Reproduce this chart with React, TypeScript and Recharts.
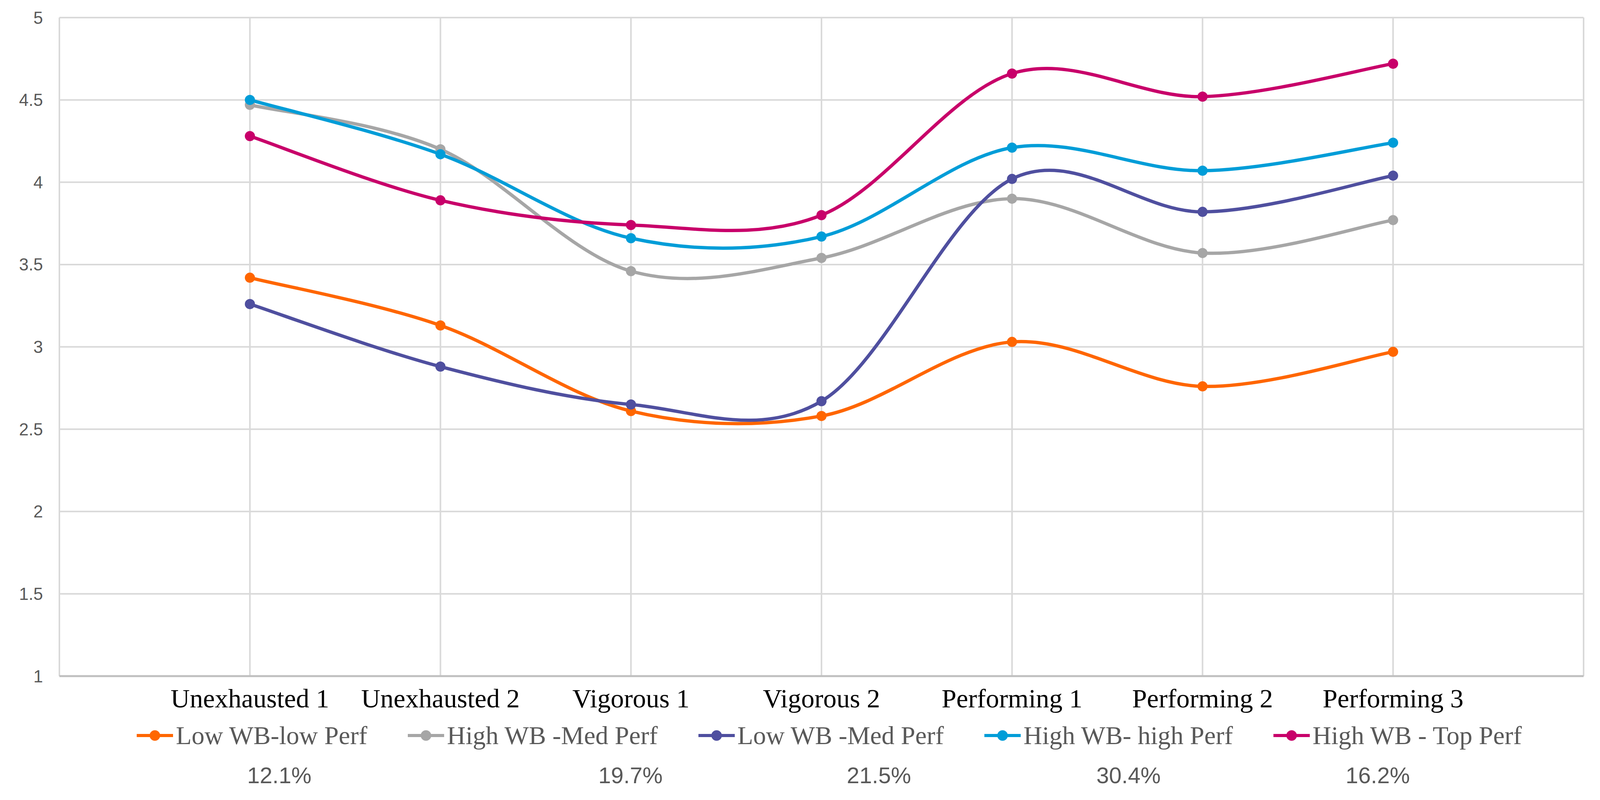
import React from 'react';
import { LineChart, Line, XAxis, YAxis, CartesianGrid, Legend } from 'recharts';

// ---- data ----
const CATEGORIES = ['Unexhausted 1', 'Unexhausted 2', 'Vigorous 1', 'Vigorous 2', 'Performing 1', 'Performing 2', 'Performing 3'];
const SERIES_NAMES = ['Low WB-low Perf', 'High WB -Med Perf', 'Low WB -Med Perf', 'High WB- high Perf', 'High WB - Top Perf'];
const SHARES = ['12.1%', '19.7%', '21.5%', '30.4%', '16.2%'];
const LOW_WB_LOW_PERF = [3.42, 3.13, 2.61, 2.58, 3.03, 2.76, 2.97];
const HIGH_WB_MED_PERF = [4.47, 4.2, 3.46, 3.54, 3.9, 3.57, 3.77];
const LOW_WB_MED_PERF = [3.26, 2.88, 2.65, 2.67, 4.02, 3.82, 4.04];
const HIGH_WB_HIGH_PERF = [4.5, 4.17, 3.66, 3.67, 4.21, 4.07, 4.24];
const HIGH_WB_TOP_PERF = [4.28, 3.89, 3.74, 3.8, 4.66, 4.52, 4.72];
const Y_TICKS = [1, 1.5, 2, 2.5, 3, 3.5, 4, 4.5, 5];

// ---- styles / layout ----
const SERIES_VALUES = [LOW_WB_LOW_PERF, HIGH_WB_MED_PERF, LOW_WB_MED_PERF, HIGH_WB_HIGH_PERF, HIGH_WB_TOP_PERF];
const COLORS = ['#FF6600', '#A6A6A6', '#4F4F9F', '#009DD8', '#C8006A'];
const SHARE_CENTERS = [715, 1614, 2250, 2889, 3527];
const W = 4111;
const H = 2047;

const data = CATEGORIES.map((c, i) => {
  const row: any = { x: i + 1, category: c };
  SERIES_VALUES.forEach((vals, k) => {
    row['s' + k] = vals[i];
  });
  return row;
});

const X_TICKS = Array.from({ length: CATEGORIES.length + 2 }, (_, i) => i);

// Excel-like smoothing (Catmull-Rom as cubic Bezier)
function smoothCurve(context: any) {
  let pts: number[][] = [];
  return {
    areaStart() {},
    areaEnd() {},
    lineStart() {
      pts = [];
    },
    point(x: number, y: number) {
      pts.push([+x, +y]);
    },
    lineEnd() {
      const n = pts.length;
      if (!n) return;
      context.moveTo(pts[0][0], pts[0][1]);
      for (let i = 0; i < n - 1; i++) {
        const p0 = pts[i - 1] || pts[i];
        const p1 = pts[i];
        const p2 = pts[i + 1];
        const p3 = pts[i + 2] || p2;
        const c1x = p1[0] + (p2[0] - p0[0]) / 6;
        const c1y = p1[1] + (p2[1] - p0[1]) / 6;
        const c2x = p2[0] - (p3[0] - p1[0]) / 6;
        const c2y = p2[1] - (p3[1] - p1[1]) / 6;
        context.bezierCurveTo(c1x, c1y, c2x, c2y, p2[0], p2[1]);
      }
    },
  };
}

const CategoryTick = (props: any) => {
  const { x, y, payload } = props;
  const label = CATEGORIES[payload.value - 1];
  if (!label) return <g />;
  return (
    <text x={x} y={y + 80} textAnchor="middle" fill="#000000" fontSize={68} fontFamily="'Liberation Serif', serif">
      {label}
    </text>
  );
};

const LegendContent = () => (
  <div style={{ position: 'relative', width: W, height: 207 }}>
    <div
      style={{
        position: 'absolute',
        top: 9,
        left: 0,
        width: W,
        height: 66,
        display: 'flex',
        justifyContent: 'center',
        alignItems: 'center',
        gap: 104,
        paddingLeft: 135,
        boxSizing: 'border-box',
      }}
    >
      {SERIES_NAMES.map((name, i) => (
        <div key={name} style={{ display: 'flex', alignItems: 'center' }}>
          <svg width={93} height={30} style={{ display: 'block' }}>
            <line x1={0} y1={15} x2={93} y2={15} stroke={COLORS[i]} strokeWidth={8} />
            <circle cx={46.5} cy={15} r={13.5} fill={COLORS[i]} />
          </svg>
          <span
            style={{
              marginLeft: 7,
              fontFamily: "'Liberation Serif', serif",
              fontSize: 66,
              lineHeight: '66px',
              color: '#595959',
              whiteSpace: 'nowrap',
            }}
          >
            {name}
          </span>
        </div>
      ))}
    </div>
    {SHARES.map((s, i) => (
      <div
        key={s}
        style={{
          position: 'absolute',
          top: 115,
          left: SHARE_CENTERS[i],
          transform: 'translateX(-50%)',
          fontFamily: "'Liberation Sans', Arial, sans-serif",
          fontSize: 58,
          lineHeight: '58px',
          color: '#595959',
          whiteSpace: 'nowrap',
        }}
      >
        {s}
      </div>
    ))}
  </div>
);

export default function App() {
  return (
    <div style={{ position: 'absolute', left: 0, top: 0, width: W, height: H, background: '#ffffff' }}>
      <LineChart width={W} height={H} data={data} margin={{ top: 45, right: 57, left: 0, bottom: 0 }}>
        <CartesianGrid stroke="#D9D9D9" strokeWidth={4} />
        <XAxis
          type="number"
          dataKey="x"
          domain={[0, CATEGORIES.length + 1]}
          ticks={X_TICKS}
          interval={0}
          height={317}
          tickLine={false}
          tickSize={0}
          tickMargin={0}
          axisLine={{ stroke: '#BFBFBF', strokeWidth: 5 }}
          tick={<CategoryTick />}
        />
        <YAxis
          type="number"
          domain={[1, 5]}
          ticks={Y_TICKS}
          interval={0}
          width={152}
          axisLine={false}
          tickLine={false}
          tickSize={0}
          tickMargin={42}
          tick={{ fill: '#595959', fontSize: 44, fontFamily: "'Liberation Sans', Arial, sans-serif" }}
        />
        <Legend
          layout="horizontal"
          verticalAlign="middle"
          align="center"
          content={<LegendContent />}
          wrapperStyle={{ position: 'absolute', top: 1840, left: 0, width: W, height: 207 }}
        />
        {SERIES_NAMES.map((name, k) => (
          <Line
            key={name}
            name={name}
            dataKey={'s' + k}
            type={smoothCurve as any}
            stroke={COLORS[k]}
            strokeWidth={8.5}
            dot={{ r: 13, fill: COLORS[k], stroke: COLORS[k], strokeWidth: 0 }}
            activeDot={false}
            isAnimationActive={false}
          />
        ))}
      </LineChart>
    </div>
  );
}
